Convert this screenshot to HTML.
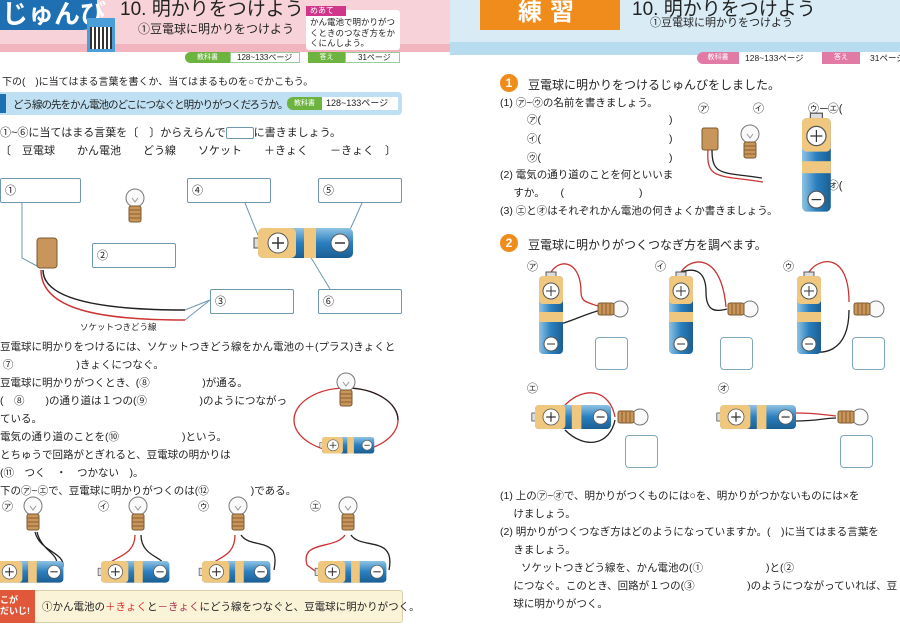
<!DOCTYPE html>
<html><head><meta charset="utf-8"><style>
body{margin:0;width:900px;height:636px;overflow:hidden;background:#fff;position:relative;font-family:"Liberation Sans","Noto Sans CJK JP",sans-serif;color:#222}
.a{position:absolute;white-space:nowrap}
.t{font-size:11px}
.bx{position:absolute;border:1px solid #6e98b0;border-radius:2px;background:#fff;font-size:11px;padding:3px 4px;box-sizing:border-box}
.sq{position:absolute;border:1.5px solid #7fa8bd;border-radius:4px;width:33px;height:33px;box-sizing:border-box}
</style></head><body>
<div class="a" style="left:0;top:0;width:450px;height:52px;background:#f7d3d9"></div>
<div class="a" style="left:0;top:44px;width:450px;height:8px;background:#f2b5c0"></div>
<div class="a" style="left:0;top:0;width:95px;height:30px;background:#1f6fb3;border-radius:0 0 14px 0;color:#fff;font-size:26px;font-weight:bold;line-height:28px;padding-left:2px">じゅんび</div>
<div class="a" style="left:87px;top:18px;width:28px;height:34px;background:#4a9fd8"></div>
<div class="a" style="left:90px;top:27px;width:22px;height:22px;background:repeating-linear-gradient(90deg,#333 0 2px,#fff 2px 4px)"></div>
<div class="a" style="left:120px;top:-6px;font-size:19px">10. 明かりをつけよう</div>
<div class="a" style="left:138px;top:20px;font-size:12px">①豆電球に明かりをつけよう</div>
<div class="a" style="left:306px;top:10px;width:94px;height:40px;background:#fff;border-radius:3px"></div>
<div class="a" style="left:306px;top:6px;width:36px;height:10px;background:#d0368a;color:#fff;font-size:8px;line-height:10px;padding-left:4px">めあて</div>
<div class="a" style="left:310px;top:17px;font-size:8.5px;line-height:10.5px;white-space:normal;width:90px">かん電池で明かりがつくときのつなぎ方をかくにんしよう。</div>
<div class="a" style="left:185px;top:52px;width:45px;height:11px;background:#6db33f;border-radius:6px 0 0 6px;color:#fff;font-size:7px;line-height:11px;text-align:center">教科書</div>
<div class="a" style="left:230px;top:52px;width:70px;height:11px;border:1px solid #9c9;box-sizing:border-box;font-size:8px;line-height:9px;padding-left:6px">128~133ページ</div>
<div class="a" style="left:308px;top:52px;width:37px;height:11px;background:#6db33f;color:#fff;font-size:7px;line-height:11px;text-align:center">答え</div>
<div class="a" style="left:345px;top:52px;width:55px;height:11px;border:1px solid #9c9;box-sizing:border-box;font-size:8px;line-height:9px;padding-left:12px">31ページ</div>
<div class="a t" style="left:2px;top:73px;font-size:10px">下の(　)に当てはまる言葉を書くか、当てはまるものを○でかこもう。</div>
<div class="a" style="left:0;top:92px;width:402px;height:23px;background:#bfe0f3;border-radius:0 4px 4px 0"></div>
<div class="a" style="left:0;top:94px;width:6px;height:19px;background:#1f6fb3"></div>
<div class="a" style="left:13px;top:97px;font-size:10.5px;letter-spacing:-1px">どう線の先をかん電池のどこにつなぐと明かりがつくだろうか。</div>
<div class="a" style="left:287px;top:97px;width:35px;height:13px;background:#6db33f;border-radius:6px 0 0 6px;color:#fff;font-size:7px;line-height:13px;text-align:center">教科書</div>
<div class="a" style="left:322px;top:97px;width:72px;height:13px;background:#fff;font-size:9px;line-height:13px;padding-left:4px">128~133ページ</div>
<div class="a t" style="left:0;top:124px">①~⑥に当てはまる言葉を〔　〕からえらんで<span style="display:inline-block;width:26px;height:10px;border:1px solid #6e98b0;border-radius:2px;vertical-align:middle"></span>に書きましょう。</div>
<div class="a t" style="left:0;top:142px">〔　豆電球　　かん電池　　どう線　　ソケット　　＋きょく　　－きょく　〕</div>
<div class="bx" style="left:0;top:178px;width:81px;height:25px">①</div>
<div class="bx" style="left:92px;top:243px;width:84px;height:25px">②</div>
<div class="bx" style="left:210px;top:289px;width:84px;height:25px">③</div>
<div class="bx" style="left:187px;top:178px;width:84px;height:25px">④</div>
<div class="bx" style="left:318px;top:178px;width:84px;height:25px">⑤</div>
<div class="bx" style="left:318px;top:289px;width:84px;height:25px">⑥</div>
<div class="a" style="left:80px;top:321px;font-size:8.5px">ソケットつきどう線</div>
<div class="a t" style="left:0;top:338px;line-height:18px;font-size:10.5px">
豆電球に明かりをつけるには、ソケットつきどう線をかん電池の＋(プラス)きょくと<br>
&nbsp;⑦　　　　　　)きょくにつなぐ。<br>
豆電球に明かりがつくとき、(⑧　　　　　)が通る。<br>
(　⑧　　)の通り道は１つの(⑨　　　　　)のようにつながっ<br>
ている。<br>
電気の通り道のことを(⑩　　　　　　)という。<br>
とちゅうで回路がとぎれると、豆電球の明かりは<br>
(⑪　つく　・　つかない　)。<br>
下の㋐~㋓で、豆電球に明かりがつくのは(⑫　　　　)である。</div>
<div class="a" style="left:0;top:590px;width:403px;height:33px;background:#fbf3d8;border:1px solid #d9cfa8;border-radius:3px;box-sizing:border-box"></div>
<div class="a" style="left:0;top:590px;width:35px;height:33px;background:#e0573a;color:#fff;font-size:9px;font-weight:bold;line-height:11px;padding-top:5px;box-sizing:border-box">こが<br>だいじ!</div>
<div class="a" style="left:42px;top:599px;font-size:10.5px">①かん電池の<span style="color:#d33">＋きょく</span>と<span style="color:#a35">－きょく</span>にどう線をつなぐと、豆電球に明かりがつく。</div>

<div class="a" style="left:450px;top:0;width:450px;height:55px;background:#d9ecf6"></div>
<div class="a" style="left:450px;top:42px;width:450px;height:13px;background:#b7dcef"></div>
<div class="a" style="left:480px;top:0;width:140px;height:30px;background:#f08c1c;color:#fff;font-size:24px;font-weight:bold;line-height:26px;text-align:center;letter-spacing:8px">練習</div>
<div class="a" style="left:632px;top:-6px;font-size:19px">10. 明かりをつけよう</div>
<div class="a" style="left:650px;top:14px;font-size:11px">①豆電球に明かりをつけよう</div>
<div class="a" style="left:697px;top:52px;width:42px;height:12px;background:#e27aa6;border-radius:6px 0 0 6px;color:#fff;font-size:7px;line-height:12px;text-align:center">教科書</div>
<div class="a" style="left:739px;top:52px;width:78px;height:12px;background:#fff;font-size:8.5px;line-height:12px;padding-left:6px">128~133ページ</div>
<div class="a" style="left:822px;top:52px;width:38px;height:12px;background:#e27aa6;color:#fff;font-size:7px;line-height:12px;text-align:center">答え</div>
<div class="a" style="left:860px;top:52px;width:40px;height:12px;background:#fff;font-size:8.5px;line-height:12px;padding-left:10px">31ページ</div>
<div class="a" style="left:500px;top:74px;width:18px;height:18px;border-radius:50%;background:#f08c1c;color:#fff;font-weight:bold;font-size:12px;line-height:18px;text-align:center">1</div>
<div class="a" style="left:528px;top:76px;font-size:12px">豆電球に明かりをつけるじゅんびをしました。</div>
<div class="a" style="left:500px;top:234px;width:18px;height:18px;border-radius:50%;background:#f08c1c;color:#fff;font-weight:bold;font-size:12px;line-height:18px;text-align:center">2</div>
<div class="a" style="left:528px;top:236px;font-size:12px">豆電球に明かりがつくつなぎ方を調べます。</div>
<div class="a t" style="left:500px;top:95px;font-size:10.5px">(1) ㋐~㋒の名前を書きましょう。</div>
<div class="a t" style="left:527px;top:111px;line-height:19px;font-size:10.5px">㋐(<span style="display:inline-block;width:128px"></span>)<br>㋑(<span style="display:inline-block;width:128px"></span>)<br>㋒(<span style="display:inline-block;width:128px"></span>)</div>
<div class="a t" style="left:500px;top:166px;line-height:18px;font-size:10.5px">(2) 電気の通り道のことを何といいま<br>　 すか。　　(<span style="display:inline-block;width:75px"></span>)<br>(3) ㋓と㋔はそれぞれかん電池の何きょくか書きましょう。</div>
<div class="a t" style="left:698px;top:100px">㋐　　　　㋑　　　　㋒</div>
<div class="a t" style="left:820px;top:100px">─㋓(</div>
<div class="a t" style="left:820px;top:177px">─㋔(</div>
<div class="a t" style="left:527px;top:258px">㋐</div><div class="a t" style="left:655px;top:258px">㋑</div><div class="a t" style="left:783px;top:258px">㋒</div>
<div class="a t" style="left:527px;top:380px">㋓</div><div class="a t" style="left:718px;top:380px">㋔</div>
<div class="sq" style="left:595px;top:337px"></div><div class="sq" style="left:720px;top:337px"></div><div class="sq" style="left:852px;top:337px"></div>
<div class="sq" style="left:625px;top:435px"></div><div class="sq" style="left:840px;top:435px"></div>
<div class="a t" style="left:500px;top:487px;line-height:18px;font-size:10.5px">
(1) 上の㋐~㋔で、明かりがつくものには○を、明かりがつかないものには×を<br>
　 けましょう。<br>
(2) 明かりがつくつなぎ方はどのようになっていますか。(　)に当てはまる言葉を<br>
　 きましょう。<br>
　　ソケットつきどう線を、かん電池の(①　　　　　　)と(②<br>
　 につなぐ。このとき、回路が１つの(③　　　　　)のようにつながっていれば、豆<br>
　 球に明かりがつく。</div>
<div class="a t" style="left:2px;top:498px">㋐</div><div class="a t" style="left:98px;top:498px">㋑</div><div class="a t" style="left:198px;top:498px">㋒</div><div class="a t" style="left:310px;top:498px">㋓</div>

<svg class="a" style="left:0;top:0" width="900" height="636">
<defs>
<linearGradient id="gv" x1="0" y1="0" x2="0" y2="1"><stop offset="0" stop-color="#8fc3e3"/><stop offset=".5" stop-color="#2a7fbf"/><stop offset="1" stop-color="#1b5f93"/></linearGradient>
<linearGradient id="gh" x1="0" y1="0" x2="1" y2="0"><stop offset="0" stop-color="#8fc3e3"/><stop offset=".5" stop-color="#2a7fbf"/><stop offset="1" stop-color="#1b5f93"/></linearGradient>
<g id="hb"><rect x="-4" y="10" width="6" height="10" fill="#ddd" stroke="#555"/><rect x="0" y="0" width="95" height="30" rx="5" fill="url(#gv)"/><rect x="0" y="0" width="38" height="30" rx="5" fill="#f0c77f"/><rect x="46" y="0" width="12" height="30" fill="#f0c77f"/><circle cx="20" cy="15" r="10" fill="#fff" stroke="#555"/><path d="M14 15h12M20 9v12" stroke="#333" stroke-width="1.5"/><circle cx="82" cy="15" r="9" fill="#fff" stroke="#555"/><path d="M77 15h10" stroke="#333" stroke-width="1.5"/></g>
<g id="vb"><rect x="7" y="-4" width="10" height="6" fill="#ddd" stroke="#555"/><rect x="0" y="0" width="24" height="78" rx="4" fill="url(#gh)"/><rect x="0" y="0" width="24" height="28" rx="4" fill="#f0c77f"/><rect x="0" y="36" width="24" height="10" fill="#f0c77f"/><circle cx="12" cy="15" r="8" fill="#fff" stroke="#555"/><path d="M7 15h10M12 10v10" stroke="#333"/><circle cx="12" cy="68" r="7" fill="#fff" stroke="#555"/><path d="M8 68h8" stroke="#333"/></g>
<g id="bu"><circle cx="0" cy="0" r="9" fill="#fafafa" stroke="#777"/><path d="M-3 0l3 4 3-4" stroke="#999" fill="none"/><rect x="-6" y="8" width="12" height="16" rx="2" fill="#c8955a" stroke="#7a5a30"/><path d="M-6 12h12M-6 16h12M-6 20h12" stroke="#8a6030"/></g>
<g id="hbu"><circle cx="0" cy="0" r="8" fill="#fafafa" stroke="#777"/><rect x="-22" y="-6" width="16" height="12" rx="2" fill="#c8955a" stroke="#7a5a30"/><path d="M-18 -6v12M-14 -6v12M-10 -6v12" stroke="#8a6030"/></g>
<g id="sb"><use href="#hb" transform="scale(.72)"/></g>
</defs>
<g stroke="#6e98b0" fill="none"><path d="M22 203v55l15 8"/><path d="M245 203l15 37"/><path d="M362 203l-18 40"/><path d="M330 289l-20 -33"/><path d="M210 300l-25 10M210 300l-25 20"/></g>
<rect x="37" y="238" width="20" height="30" rx="3" fill="#c8955a" stroke="#7a5a30"/>
<path d="M43 270c0 30 60 40 142 40" stroke="#222" stroke-width="1.5" fill="none"/><path d="M41 270c0 40 60 50 144 50" stroke="#c33" stroke-width="1.5" fill="none"/>
<use href="#bu" x="135" y="198"/>
<use href="#hb" x="258" y="228"/>
<ellipse cx="346" cy="420" rx="52" ry="32" fill="none" stroke="#c33" stroke-width="1.3"/>
<path d="M346 388a52 32 0 0 1 52 32" stroke="#222" stroke-width="1.3" fill="none"/>
<use href="#bu" x="346" y="382"/>
<g transform="translate(322,437) scale(.55)"><use href="#hb"/></g>
<path d="M35 532c5 20 30 20 28 35M37 532c5 20 22 20 20 35" stroke="#222" stroke-width="1.3" fill="none"/>
<use href="#bu" x="33" y="506"/><use href="#sb" x="-5" y="561"/>
<path d="M135 535c0 20-20 22-25 28" stroke="#c33" stroke-width="1.3" fill="none"/><path d="M141 535c0 20 20 22 22 28" stroke="#222" stroke-width="1.3" fill="none"/>
<use href="#bu" x="138" y="506"/><use href="#sb" x="101" y="561"/>
<path d="M235 535c0 20-15 22-22 28" stroke="#c33" stroke-width="1.3" fill="none"/><path d="M241 535c10 15 40 0 33 35" stroke="#222" stroke-width="1.3" fill="none"/>
<use href="#bu" x="238" y="506"/><use href="#sb" x="202" y="561"/>
<path d="M345 535c-10 15-45 5-38 30l8 6" stroke="#c33" stroke-width="1.3" fill="none"/><path d="M351 535c10 15 45 0 38 35" stroke="#222" stroke-width="1.3" fill="none"/>
<use href="#bu" x="348" y="506"/><use href="#sb" x="318" y="561"/>
<rect x="702" y="128" width="16" height="22" rx="2" fill="#c8955a" stroke="#7a5a30"/>
<path d="M708 150c-2 30 10 25 55 32" stroke="#c33" stroke-width="1.3" fill="none"/><path d="M712 150c0 26 10 22 50 28" stroke="#222" stroke-width="1.3" fill="none"/>
<use href="#bu" x="750" y="134"/>
<g transform="translate(802,118) scale(1.2)"><use href="#vb"/></g>
<path d="M551 272c10-15 30-10 30 20 0 10 5 10 20 15" stroke="#c33" stroke-width="1.3" fill="none"/><path d="M551 325c15 0 30-10 50-15" stroke="#222" stroke-width="1.3" fill="none"/>
<use href="#vb" x="539" y="276"/><use href="#hbu" x="620" y="309"/>
<path d="M681 272c10-15 40-20 45 35" stroke="#c33" stroke-width="1.3" fill="none"/><path d="M681 272c15-5 25 0 25 20 0 20 10 20 21 17" stroke="#222" stroke-width="1.3" fill="none"/>
<use href="#vb" x="669" y="276"/><use href="#hbu" x="750" y="309"/>
<path d="M809 272c10-15 40-20 40 30" stroke="#c33" stroke-width="1.3" fill="none"/><path d="M809 350c10 5 40 5 40-40" stroke="#222" stroke-width="1.3" fill="none"/>
<use href="#vb" x="797" y="276"/><use href="#hbu" x="876" y="309"/>
<path d="M565 405c20-20 45-15 50 12" stroke="#c33" stroke-width="1.3" fill="none"/><path d="M565 430c20 20 45 15 50-10" stroke="#222" stroke-width="1.3" fill="none"/>
<g transform="translate(535,405) scale(.8)"><use href="#hb"/></g><use href="#hbu" x="640" y="417"/>
<path d="M796 413c20 0 30 2 40 3" stroke="#c33" stroke-width="1.3" fill="none"/><path d="M796 421c20 0 30-3 40-3" stroke="#222" stroke-width="1.3" fill="none"/>
<g transform="translate(720,405) scale(.8)"><use href="#hb"/></g><use href="#hbu" x="860" y="417"/>
</svg>
</body></html>
